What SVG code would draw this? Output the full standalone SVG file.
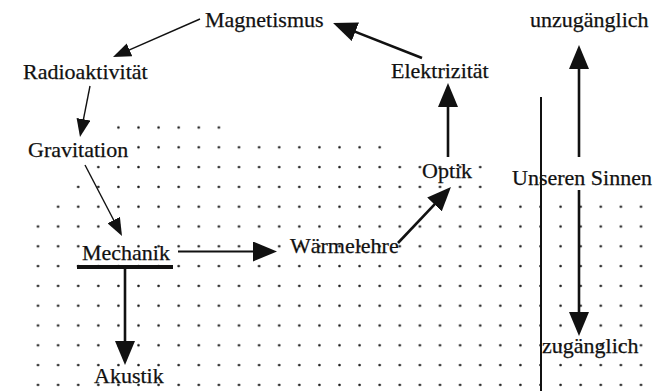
<svg xmlns="http://www.w3.org/2000/svg" width="655" height="391" viewBox="0 0 655 391">
<style>
text{font-family:"Liberation Serif","Times New Roman",serif;font-size:22px;fill:#111;stroke:#111;stroke-width:0.25}
.c{stroke:#111;fill:none}
.thin{stroke-width:1.4}
.mid{stroke-width:2}
.thick{stroke-width:2.6}
</style>
<defs>
<pattern id="dots" patternUnits="userSpaceOnUse" x="27.95" y="117.6" width="20.1" height="19.8">
<circle cx="10.05" cy="9.9" r="1.3" fill="#1a1a1a"/>
</pattern>
<marker id="ahs" markerUnits="userSpaceOnUse" markerWidth="18" markerHeight="14" refX="5" refY="7" orient="auto">
<path d="M0,0 L18,7 L0,14 z" fill="#111"/>
</marker>
<marker id="ahb" markerUnits="userSpaceOnUse" markerWidth="24" markerHeight="20" refX="6" refY="10" orient="auto">
<path d="M0,0 L24,10 L0,20 z" fill="#111"/>
</marker>
</defs>
<rect width="655" height="391" fill="#fff"/>
<g id="grid" fill="url(#dots)">
<rect x="108" y="117.6" width="121" height="19.8"/>
<rect x="128" y="137.4" width="262" height="19.8"/>
<rect x="88" y="157.2" width="402" height="19.8"/>
<rect x="68" y="177" width="422" height="19.8"/>
<rect x="48" y="196.8" width="604" height="19.8"/>
<rect x="28" y="216.6" width="624" height="178"/>
</g>
<g id="connectors" class="c">
<line class="thin" x1="200" y1="19" x2="124.9" y2="51.8" marker-end="url(#ahs)"/>
<line class="thin" x1="90" y1="86" x2="82.5" y2="124.2" marker-end="url(#ahs)"/>
<line class="thin" x1="85" y1="165" x2="116" y2="224.5" marker-end="url(#ahs)"/>
<line class="mid" x1="178" y1="251.5" x2="259" y2="251.5" marker-end="url(#ahb)"/>
<line x1="77" y1="267" x2="173" y2="267" stroke-width="4"/>
<line class="thick" x1="125" y1="268" x2="125" y2="347" marker-end="url(#ahb)"/>
<line class="thick" x1="398" y1="243" x2="438.6" y2="200.1" marker-end="url(#ahb)"/>
<line class="thick" x1="448" y1="157" x2="448" y2="101" marker-end="url(#ahb)"/>
<line class="thick" x1="422" y1="58" x2="349.8" y2="29.6" marker-end="url(#ahb)"/>
<line class="thick" x1="579" y1="157" x2="579" y2="63" marker-end="url(#ahb)"/>
<line class="thick" x1="579" y1="190" x2="579" y2="318" marker-end="url(#ahb)"/>
<line class="mid" x1="541" y1="97" x2="541" y2="391"/>
</g>
<g font-family="Liberation Serif, Times New Roman, serif" font-size="22">
<g id="magnetismus"><text x="205" y="27">Magnetismus</text></g>
<g id="radioaktivitaet"><text x="23" y="79">Radioaktivität</text></g>
<g id="gravitation"><text x="28" y="157">Gravitation</text></g>
<g id="mechanik"><text x="82" y="260">Mechanik</text></g>
<g id="waermelehre"><text x="290" y="253">Wärmelehre</text></g>
<g id="akustik"><text x="94" y="383">Akustik</text></g>
<g id="optik"><text x="422" y="178">Optik</text></g>
<g id="elektrizitaet"><text x="391" y="78">Elektrizität</text></g>
<g id="unzugaenglich"><text x="530" y="27">unzugänglich</text></g>
<g id="unseren-sinnen"><text x="512" y="185">Unseren Sinnen</text></g>
<g id="zugaenglich"><text x="542" y="353">zugänglich</text></g>
</g>
</svg>
